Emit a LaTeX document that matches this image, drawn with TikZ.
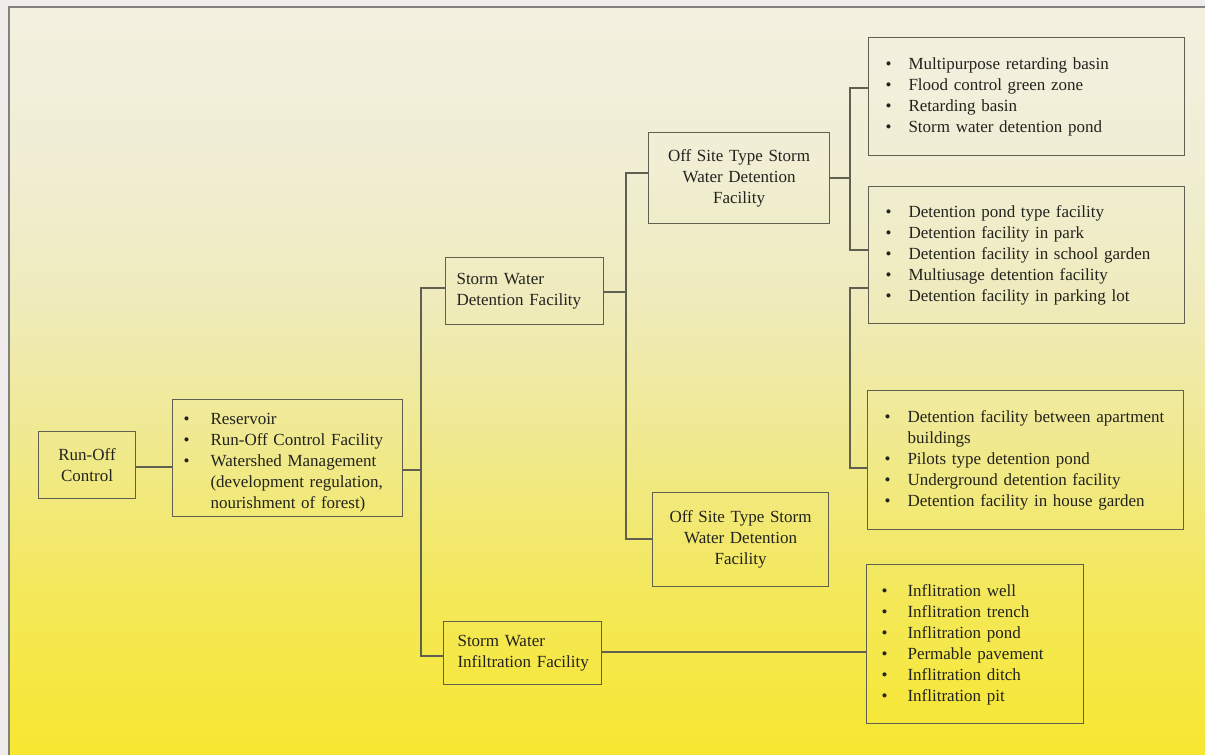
\documentclass[tikz,border=0pt]{standalone}
\usepackage{fontspec}
\setmainfont{Liberation Serif}
\hyphenpenalty=10000
\exhyphenpenalty=10000
\definecolor{outc}{RGB}{240,236,236}
\definecolor{framec}{RGB}{130,130,125}
\definecolor{linec}{RGB}{95,95,82}
\definecolor{txtc}{RGB}{35,35,30}
\definecolor{c0}{RGB}{243,240,224}
\definecolor{c1}{RGB}{241,238,214}
\definecolor{c2}{RGB}{239,235,188}
\definecolor{c3}{RGB}{240,233,140}
\definecolor{c4}{RGB}{244,232,88}
\definecolor{c5}{RGB}{247,231,48}
\pgfdeclareverticalshading{bgshade}{100bp}{color(0bp)=(c5); color(25bp)=(c5); color(35.4bp)=(c4); color(45.4bp)=(c3); color(55.4bp)=(c2); color(65.4bp)=(c1); color(75bp)=(c0); color(100bp)=(c0)}
\newcommand{\bi}[1]{\par\hangindent=40pt\hangafter=1\noindent\hspace*{17pt}\makebox[23pt][l]{\textbullet}#1\par}
\newcommand{\bir}[1]{\par\hangindent=38pt\hangafter=1\noindent\hspace*{11pt}\makebox[27pt][l]{\textbullet}#1\par}
\newcommand{\biw}[1]{\par\hangindent=41pt\hangafter=1\noindent\hspace*{15pt}\makebox[26pt][l]{\textbullet}#1\par}
\begin{document}
\begin{tikzpicture}[x=1pt,y=-1pt,
  box/.style={draw=linec, line width=1.1pt, anchor=north west, text=txtc,
    font=\fontsize{17}{21}\selectfont, inner ysep=2pt},
  cbox/.style={box, align=center, inner xsep=0pt},
  lbox/.style={box, align=left},
  frame/.style={draw=linec, line width=1.1pt, anchor=north west, inner sep=0pt},
  btext/.style={anchor=center, text=txtc, align=left, inner sep=0pt,
    font=\fontsize{17}{21}\selectfont},
  conn/.style={draw=linec, line width=1.1pt}]
\useasboundingbox (0,0) rectangle (1205,755);
\fill[outc] (0,0) rectangle (1205,755);
\shade[shading=bgshade] (9,7) rectangle (1205,755);
\draw[framec, line width=2pt] (9,755) -- (9,7) -- (1205,7);

% nodes
\node[cbox, text width=97pt, minimum height=67pt] (ro) at (38,431) {Run-Off\\Control};
\node[lbox, inner xsep=0pt, text width=230pt, minimum height=117pt] (res) at (172,399)
  {\bir{Reservoir}\bir{Run-Off Control Facility}\bir{Watershed Management (development regulation, nourishment of forest)}};
\node[lbox, inner xsep=0pt, text width=158pt, minimum height=67pt] (swd) at (445,257)
  {\hspace*{11pt}Storm Water\\\hspace*{11pt}Detention Facility};
\node[lbox, inner xsep=0pt, text width=158pt, minimum height=63pt] (swi) at (443,621)
  {\hspace*{14pt}Storm Water\\\hspace*{14pt}Infiltration Facility};
\node[cbox, text width=181pt, minimum height=91pt] (os1) at (648,132) {Off Site Type Storm\\Water Detention\\Facility};
\node[cbox, text width=176pt, minimum height=94pt] (os2) at (652,492) {Off Site Type Storm\\Water Detention\\Facility};

\node[frame, minimum width=316pt, minimum height=118pt] (b1) at (868,37) {};
\node[btext, text width=316pt] (b1t) at ([yshift=4pt]b1.center)
  {\bi{Multipurpose retarding basin}\bi{Flood control green zone}\bi{Retarding basin}\bi{Storm water detention pond}};
\node[frame, minimum width=316pt, minimum height=137pt] (b2) at (868,186) {};
\node[btext, text width=316pt] (b2t) at ([yshift=4pt]b2.center)
  {\bi{Detention pond type facility}\bi{Detention facility in park}\bi{Detention facility in school garden}\bi{Multiusage detention facility}\bi{Detention facility in parking lot}};
\node[frame, minimum width=316pt, minimum height=139pt] (b3) at (867,390) {};
\node[btext, text width=316pt] (b3t) at ([yshift=4pt]b3.center)
  {\bi{Detention facility between apartment buildings}\bi{Pilots type detention pond}\bi{Underground detention facility}\bi{Detention facility in house garden}};
\node[frame, minimum width=217pt, minimum height=159pt] (b4) at (866,564) {};
\node[btext, text width=217pt] (b4t) at ([yshift=4pt]b4.center)
  {\biw{Inflitration well}\biw{Inflitration trench}\biw{Inflitration pond}\biw{Permable pavement}\biw{Inflitration ditch}\biw{Inflitration pit}};

% trunk coordinates
\coordinate (tA) at (421,470);
\coordinate (tB) at (626,292);
\coordinate (tC) at (850,178);
\coordinate (tD) at (850,288);

% connectors
\draw[conn] (ro.east |- 0,467) -- (res.west |- 0,467);
\draw[conn] (res.east |- tA) -- (tA);
\draw[conn] (swd.west |- 0,288) -| (tA) |- (swi.west |- 0,656);
\draw[conn] (swd.east |- tB) -- (tB);
\draw[conn] (os1.west |- 0,173) -| (tB) |- (os2.west |- 0,539);
\draw[conn] (os1.east |- tC) -- (tC);
\draw[conn] (b1.west |- 0,88) -| (tC) |- (b2.west |- 0,250);
\draw[conn] (b2.west |- tD) -- (tD) |- (b3.west |- 0,468);
\draw[conn] (swi.east |- 0,652) -- (b4.west |- 0,652);
\end{tikzpicture}
\end{document}
